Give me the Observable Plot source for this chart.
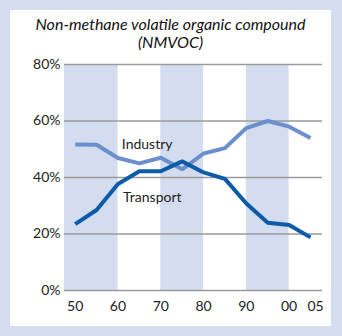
<!DOCTYPE html>
<html>
<head>
<meta charset="utf-8">
<script src="https://cdn.jsdelivr.net/npm/d3@7"></script>
<script src="https://cdn.jsdelivr.net/npm/@observablehq/plot@0.6"></script>
<style>
  html, body { margin: 0; padding: 0; }
  body { width: 342px; height: 336px; background: #d4ddef; position: relative; overflow: hidden; font-family: Lato, "Open Sans", sans-serif; }
  #panel { position: absolute; left: 10px; top: 10px; width: 321px; height: 316px; background: #fff; }
  #title { position: absolute; left: 0; top: 5px; width: 321px; text-align: center; font-style: italic; font-size: 16px; line-height: 18px; color: #111; }
  #chart { position: absolute; left: 0; top: 46px; }
</style>
</head>
<body>
<div id="panel">
  <div id="title">Non-methane volatile organic compound<br>(NMVOC)</div>
  <div id="chart"></div>
</div>
<script>
const years = [1950, 1955, 1960, 1965, 1970, 1975, 1980, 1985, 1990, 1995, 2000, 2005];
const industry = [51.7, 51.6, 46.9, 45.0, 47.0, 42.9, 48.5, 50.4, 57.5, 60.0, 58.0, 54.0];
const transport = [23.5, 28.5, 37.7, 42.2, 42.2, 45.7, 41.8, 39.5, 30.8, 24.0, 23.2, 18.8];
const seriesNames = ["Industry", "Transport"];
const bandStarts = [1947.5, 1970, 1990];
const bandEnds = [1960, 1980, 2000];
const yTicks = [0, 20, 40, 60, 80];
const xTicks = [1950, 1960, 1970, 1980, 1990, 2000];
const xTickLast = [2005];
const labelYears = [1960.9, 1961.2];
const labelValues = [51.5, 32.9];

const data = [];
years.forEach((yr, i) => {
  data.push({year: yr, value: industry[i], series: seriesNames[0]});
  data.push({year: yr, value: transport[i], series: seriesNames[1]});
});
const bands = bandStarts.map((s, i) => ({x1: s, x2: bandEnds[i]}));
const labels = seriesNames.map((n, i) => ({name: n, year: labelYears[i], value: labelValues[i]}));
const colors = {Industry: "#6b8fcc", Transport: "#0b5ba8"};
const fmtYear = d => String(d % 100).padStart(2, "0");

const chart = Plot.plot({
  width: 321,
  height: 270,
  marginLeft: 54,
  marginRight: 9,
  marginTop: 8,
  marginBottom: 36,
  style: {fontFamily: "Lato, 'Open Sans', sans-serif", fontSize: "14px", color: "#222", background: "transparent", overflow: "visible"},
  x: {domain: [1947.5, 2007.8]},
  y: {domain: [0, 80]},
  marks: [
    Plot.rect(bands, {x1: "x1", x2: "x2", y1: 0, y2: 80, fill: "#d4ddef"}),
    Plot.ruleY(yTicks, {stroke: "#9a9a9a", strokeWidth: 1.3}),
    Plot.axisY({ticks: yTicks, tickSize: 0, tickPadding: 4, tickFormat: d => d + "%", label: null, fontSize: 14}),
    Plot.axisX({ticks: xTicks, tickSize: 0, tickPadding: 11, tickFormat: fmtYear, label: null, fontSize: 14}),
    Plot.axisX({ticks: xTickLast, tickSize: 0, tickPadding: 11, tickFormat: fmtYear, label: null, fontSize: 14, dx: 5}),
    Plot.line(data, {x: "year", y: "value", z: "series", stroke: d => colors[d.series], strokeWidth: 4, strokeLinejoin: "miter", strokeLinecap: "butt"}),
    Plot.text(labels, {x: "year", y: "value", text: "name", textAnchor: "start", fill: "#222", fontSize: 14})
  ]
});
document.getElementById("chart").appendChild(chart);
</script>
</body>
</html>
